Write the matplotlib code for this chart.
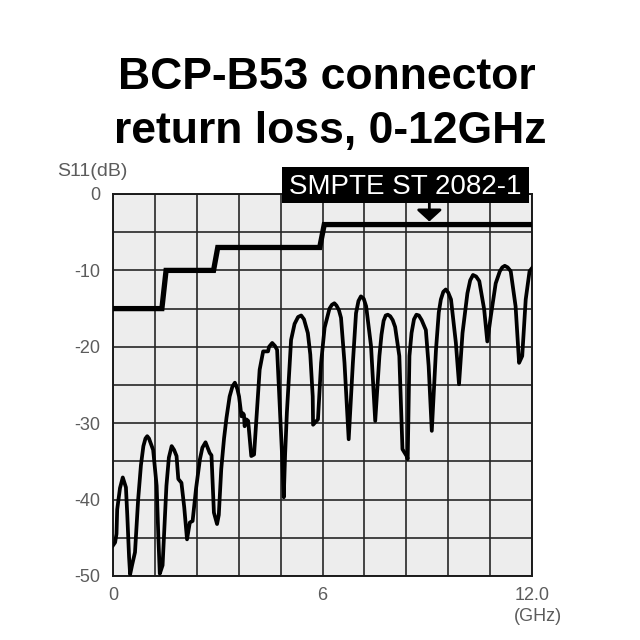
import matplotlib
matplotlib.use("Agg")
import matplotlib.pyplot as plt
from matplotlib.patches import Rectangle

plt.rcParams["font.family"] = ["Liberation Sans", "DejaVu Sans"]

# measured return loss (GHz, dB)
freq = [0.0, 0.06, 0.1, 0.12, 0.2, 0.28, 0.37, 0.41, 0.46, 0.49, 0.55, 0.63,
        0.72, 0.8, 0.87, 0.93, 0.98, 1.03, 1.07, 1.15, 1.25, 1.3, 1.34, 1.42,
        1.53, 1.6, 1.68, 1.75, 1.82, 1.87, 1.96, 2.04, 2.12, 2.2, 2.28, 2.38,
        2.49, 2.56, 2.65, 2.77, 2.82, 2.89, 2.98, 3.03, 3.1, 3.18, 3.25, 3.34,
        3.42, 3.49, 3.56, 3.61, 3.68, 3.72, 3.75, 3.77, 3.82, 3.87, 3.96, 4.04,
        4.12, 4.2, 4.3, 4.44, 4.47, 4.56, 4.64, 4.7, 4.77, 4.84, 4.89, 4.93,
        4.98, 5.1, 5.2, 5.3, 5.39, 5.47, 5.58, 5.65, 5.72, 5.73, 5.87, 5.96,
        6.06, 6.2, 6.27, 6.34, 6.4, 6.47, 6.53, 6.63, 6.75, 6.87, 6.96, 7.03,
        7.1, 7.18, 7.25, 7.39, 7.51, 7.63, 7.69, 7.75, 7.81, 7.87, 7.94, 8.01,
        8.08, 8.2, 8.29, 8.41, 8.44, 8.49, 8.55, 8.62, 8.69, 8.76, 8.84, 8.96,
        9.04, 9.13, 9.25, 9.33, 9.39, 9.46, 9.53, 9.6, 9.68, 9.82, 9.91, 10.01,
        10.15, 10.23, 10.31, 10.4, 10.49, 10.63, 10.72, 10.82, 10.96, 11.08,
        11.15, 11.22, 11.3, 11.39, 11.53, 11.63, 11.72, 11.82, 11.93, 12.0]
s11 = [-46.0, -45.6, -44.5, -41.3, -38.5, -37.1, -38.4, -42.1, -47.5, -49.8,
       -48.5, -46.9, -40.0, -35.5, -33.0, -32.0, -31.7, -32.0, -32.5, -33.5,
       -38.2, -45.0, -49.7, -48.6, -38.2, -34.5, -33.0, -33.5, -34.3, -37.3,
       -37.8, -41.0, -45.2, -43.0, -42.8, -38.5, -34.7, -33.2, -32.5, -33.9,
       -34.2, -41.7, -43.2, -42.0, -36.0, -32.0, -29.3, -26.5, -25.2, -24.7,
       -25.5, -26.5, -29.1, -28.7, -28.9, -30.4, -29.5, -29.7, -34.3, -34.1,
       -28.5, -23.0, -20.6, -20.6, -20.0, -19.5, -19.9, -20.4, -27.3, -34.0,
       -39.7, -34.0, -28.6, -19.1, -17.0, -16.1, -15.9, -16.4, -18.2, -21.0,
       -26.5, -30.2, -29.5, -22.1, -17.5, -15.0, -14.5, -14.3, -14.6, -15.2,
       -16.2, -22.1, -32.1, -22.1, -15.6, -14.0, -13.4, -13.7, -14.7, -19.9,
       -29.7, -21.2, -18.4, -16.6, -15.9, -15.8, -16.0, -16.5, -17.4, -21.2,
       -33.4, -34.3, -34.7, -21.2, -18.2, -16.4, -15.8, -15.9, -16.5, -17.8,
       -22.5, -31.0, -20.4, -15.5, -13.8, -12.8, -12.5, -12.9, -13.8, -19.5,
       -24.9, -18.2, -13.0, -11.3, -10.6, -10.8, -11.4, -15.1, -19.3, -16.0,
       -11.7, -10.1, -9.6, -9.4, -9.6, -10.1, -14.7, -22.1, -21.2, -13.8,
       -10.1, -9.7]

# SMPTE ST 2082-1 limit mask
limit_freq = [0.0, 1.4, 1.52, 2.88, 3.0, 5.92, 6.05, 12.0]
limit_db = [-15, -15, -10, -10, -7, -7, -4, -4]

x_ticks = [0, 6, 12]
x_labels = ["0", "6", "12.0"]
y_ticks = [0, -10, -20, -30, -40, -50]
y_labels = ["0", "-10", "-20", "-30", "-40", "-50"]

label_gray = "#5c5c5c"

fig = plt.figure(figsize=(6.4, 6.4), dpi=100)
ax = fig.add_axes([113 / 640, 64 / 640, 419 / 640, 382 / 640])
ax.set_facecolor("#ededed")

ax.plot(limit_freq, limit_db, color="black", lw=3.8, solid_joinstyle="miter", zorder=3)
ax.plot(freq, s11, color="black", lw=2.7, solid_joinstyle="round", zorder=4)

ax.set_xlim(0, 12)
ax.set_ylim(-50, 0)
ax.set_xticks(x_ticks)
ax.set_xticklabels(x_labels)
ax.set_yticks(y_ticks)
ax.set_yticklabels(y_labels)
ax.set_xticks([1.2 * i for i in range(11)], minor=True)
ax.set_yticks([-5 * i for i in range(11)], minor=True)
ax.grid(which="both", color="#262626", lw=1.2, zorder=1)
ax.set_axisbelow(True)
ax.tick_params(which="both", length=0, labelsize=13, colors=label_gray)
ax.tick_params(axis="y", pad=9)
ax.tick_params(axis="x", pad=8)
for sp in ax.spines.values():
    sp.set_color("#1a1a1a")
    sp.set_linewidth(1.4)

fig.text(0.511, 1 - 89 / 640, "BCP-B53 connector", ha="center", va="baseline",
         fontsize=32, fontweight="bold")
fig.text(0.5156, 1 - 143 / 640, "return loss, 0-12GHz", ha="center", va="baseline",
         fontsize=32, fontweight="bold")

fig.text(57 / 640, 1 - 171.7 / 640, "S11(dB)", ha="left", va="center",
         fontsize=14, color=label_gray)
fig.text(538 / 640, 1 - 616.7 / 640, "(GHz)", ha="center", va="center",
         fontsize=13, color=label_gray)

# standard label box
box = Rectangle((281.7 / 640, 1 - 202.7 / 640), 247.3 / 640, 35.4 / 640,
                transform=fig.transFigure, facecolor="black", edgecolor="none", zorder=10)
fig.add_artist(box)
fig.text(405.3 / 640, 1 - 186.5 / 640, "SMPTE ST 2082-1", ha="center", va="center",
         fontsize=20, color="white", zorder=11)
ax.annotate("", xy=(9.06, -3.6), xycoords="data",
            xytext=(9.06, 1 - 202 / 640), textcoords=("data", "figure fraction"),
            arrowprops=dict(arrowstyle="-|>,head_width=0.55,head_length=0.5",
                            mutation_scale=14, lw=2.0, color="black",
                            shrinkA=0, shrinkB=0),
            annotation_clip=False, zorder=9)

fig.savefig("out.png", dpi=100)
